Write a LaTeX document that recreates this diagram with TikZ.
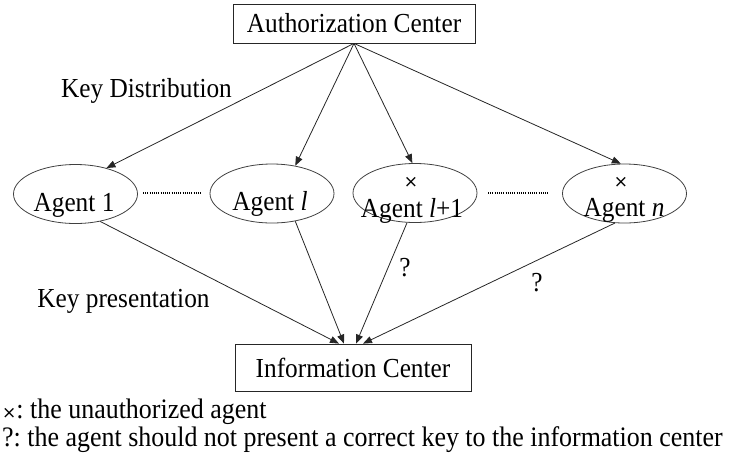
\documentclass[tikz,border=0pt]{standalone}
\usepackage{fontspec}
\setmainfont{Liberation Serif}[FakeStretch=0.92]
\newfontfamily\crossfont{DejaVu Sans}
\usetikzlibrary{shapes.geometric,arrows.meta}
\frenchspacing
\begin{document}
\begin{tikzpicture}[x=1pt,y=-1pt,
  font=\fontsize{27.5}{30}\selectfont,
  line/.style={draw=black!85, line width=0.8pt},
  arr/.style={line, -{Triangle[length=9pt,width=7pt]}},
  agent/.style={ellipse, draw=black!75, line width=0.8pt, minimum width=124pt, minimum height=59pt, inner sep=0pt},
  centerbox/.style={rectangle, draw=black!85, line width=0.8pt, inner sep=0pt},
  lbl/.style={inner sep=0pt, anchor=base},
  cross/.style={inner sep=0pt, font=\crossfont\fontsize{17}{18}\selectfont},
  legend/.style={inner sep=0pt, anchor=base west, font=\fontsize{28.2}{30}\selectfont},
  dotline/.style={draw=black, line width=1.3pt, dash pattern=on 1pt off 1.2pt}
]
\useasboundingbox (0,0) rectangle (734,467);

% centers
\node[centerbox, minimum width=242pt, minimum height=39pt] (auth) at (354,23.5) {Authorization Center};
\node[centerbox, minimum width=236pt, minimum height=47pt] (ic) at (353,367.5) {Information Center};

% agents
\node[agent] (a1) at (75.5,194) {};
\node[agent] (a2) at (272,193.5) {};
\node[agent] (a3) at (415,193) {};
\node[agent] (a4) at (624.5,193.5) {};

\node[lbl] (t1) at (74,211) {Agent 1};
\node[lbl] (t2) at (270,210) {Agent \textit{l}};
\node[lbl] (t3) at (412,217) {Agent \textit{l}+1};
\node[lbl] (t4) at (624,216) {Agent \textit{n}};
\node[cross] (x3) at (411,182) {×};
\node[cross] (x4) at (621,182) {×};

% dotted gaps
\coordinate (d1s) at (143,193);
\coordinate (d1e) at (202,193);
\coordinate (d2s) at (488,193);
\coordinate (d2e) at (548,193);
\draw[dotline] (d1s) -- (d1e);
\draw[dotline] (d2s) -- (d2e);

% key distribution
\draw[arr] (auth.south) -- (a1.40);
\draw[arr] (auth.south) -- (a2.50);
\draw[arr] (auth.south) -- (a3.95);
\draw[arr] (auth.south) -- (a4.97);

% key presentation
\draw[arr] (a1.-48) -- ([xshift=-14pt]ic.north);
\draw[arr] (a2.-50) -- ([xshift=-9pt]ic.north);
\draw[arr] (a3.-105) -- ([xshift=3pt]ic.north);
\draw[arr] (a4.-108) -- ([xshift=10pt]ic.north);

% labels
\node[lbl] (kd) at (146.5,97) {Key Distribution};
\node[lbl] (kp) at (123.5,307) {Key presentation};
\node[lbl] (q1) at (405,276) {?};
\node[lbl] (q2) at (537,291) {?};

% legend
\node[legend] (leg1) at (2,418) {{\crossfont\fontsize{17}{18}\selectfont ×}: the unauthorized agent};
\node[legend] (leg2) at (2,446) {?: the agent should not present a correct key to the information center};
\end{tikzpicture}
\end{document}
